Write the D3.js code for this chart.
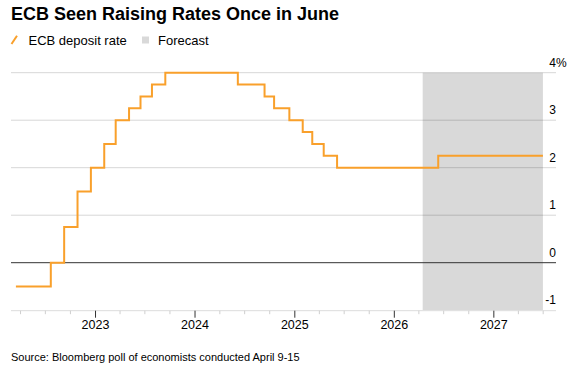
<!DOCTYPE html>
<html>
<head>
<meta charset="utf-8">
<script src="https://cdn.jsdelivr.net/npm/d3@7"></script>
<style>
  html, body { margin: 0; padding: 0; background: #fff; }
  svg { display: block; font-family: "Liberation Sans", Arial, Helvetica, sans-serif; }
</style>
</head>
<body>
<svg id="chart" width="576" height="366"></svg>
<script>
// ---- data ----
const title = "ECB Seen Raising Rates Once in June";
const seriesName = "ECB deposit rate";
const forecastName = "Forecast";
const source = "Source: Bloomberg poll of economists conducted April 9-15";

// step dates (decision dates) and deposit rate (%) taking effect from that date
const rateDates = [
  "2022-03-15", "2022-07-21", "2022-09-08", "2022-10-27", "2022-12-15",
  "2023-02-02", "2023-03-16", "2023-05-04", "2023-06-15", "2023-07-27",
  "2023-09-14", "2024-06-06", "2024-09-12", "2024-10-17", "2024-12-12",
  "2025-01-30", "2025-03-06", "2025-04-17", "2025-06-05", "2026-06-11",
  "2027-06-30"
];
const rateValues = [
  -0.5, 0, 0.75, 1.5, 2.0,
  2.5, 3.0, 3.25, 3.5, 3.75,
  4.0, 3.75, 3.5, 3.25, 3.0,
  2.75, 2.5, 2.25, 2.0, 2.25,
  2.25
];
const forecastStart = "2026-04-15";
const forecastEnd = "2027-06-30";

const yTicks = [-1, 0, 1, 2, 3, 4];
const xYears = ["2023", "2024", "2025", "2026", "2027"];
const xDomain = ["2022-02-25", "2027-08-17"];
const yDomain = [-1, 4];

// ---- drawing ----
(function () {
const parse = d3.utcParse("%Y-%m-%d");
const data = rateDates.map((d, i) => ({ date: parse(d), value: rateValues[i] }));

const svg = d3.select("#chart");
const pl = 11, pr = 556, pt = 72.7, pb = 310.2;

const x = d3.scaleUtc().domain(xDomain.map(parse)).range([pl, pr]);
const y = d3.scaleLinear().domain(yDomain).range([pb, pt]);

const orange = "#f9a02b";

// title
svg.append("text")
  .attr("x", 11).attr("y", 20)
  .attr("font-size", 18).attr("font-weight", "bold").attr("fill", "#000")
  .attr("textLength", 328).attr("lengthAdjust", "spacingAndGlyphs")
  .text(title);

// legend
svg.append("line")
  .attr("x1", 11.5).attr("y1", 44).attr("x2", 17).attr("y2", 35.8)
  .attr("stroke", orange).attr("stroke-width", 2);
svg.append("text")
  .attr("x", 28.5).attr("y", 44.5)
  .attr("font-size", 13).attr("fill", "#000")
  .text(seriesName);
svg.append("rect")
  .attr("x", 142).attr("y", 36.5).attr("width", 7).attr("height", 7)
  .attr("fill", "#d9d9d9");
svg.append("text")
  .attr("x", 158).attr("y", 44.5)
  .attr("font-size", 13).attr("fill", "#000")
  .text(forecastName);

// forecast shading
svg.append("rect")
  .attr("x", x(parse(forecastStart)))
  .attr("y", y(4))
  .attr("width", x(parse(forecastEnd)) - x(parse(forecastStart)))
  .attr("height", y(-1) - y(4))
  .attr("fill", "#d9d9d9");

// grid lines
const grid = svg.append("g");
grid.selectAll("line")
  .data(yTicks.filter(t => t > -1))
  .join("line")
  .attr("x1", pl).attr("x2", pr)
  .attr("y1", d => y(d)).attr("y2", d => y(d))
  .attr("stroke", d => d === 0 ? "#333" : "rgba(0,0,0,0.16)")
  .attr("stroke-width", 1);

// y labels
const yl = svg.append("g").attr("font-size", 12).attr("fill", "#000");
yl.selectAll("text.num")
  .data(yTicks)
  .join("text")
  .attr("class", "num")
  .attr("x", pr)
  .attr("y", d => y(d) - 6)
  .attr("text-anchor", "end")
  .text(d => d);
yl.append("text")
  .attr("x", pr).attr("y", y(4) - 6)
  .text("%");

// x axis
const axisY = 310.7;
svg.append("line")
  .attr("x1", pl).attr("x2", pr)
  .attr("y1", axisY).attr("y2", axisY)
  .attr("stroke", "#dcdcdc");
const quarters = d3.utcMonth.every(3).range(x.domain()[0], x.domain()[1]);
svg.append("g").selectAll("line")
  .data(quarters.filter(d => d.getUTCMonth() !== 0))
  .join("line")
  .attr("x1", d => x(d)).attr("x2", d => x(d))
  .attr("y1", axisY).attr("y2", axisY + 3.5)
  .attr("stroke", "#cfcfcf");
const years = xYears.map(s => parse(s + "-01-01"));
svg.append("g").selectAll("line")
  .data(years)
  .join("line")
  .attr("x1", d => x(d)).attr("x2", d => x(d))
  .attr("y1", axisY).attr("y2", axisY + 7)
  .attr("stroke", "#333");
svg.append("g").attr("font-size", 12.5).attr("fill", "#000")
  .selectAll("text")
  .data(years)
  .join("text")
  .attr("x", d => x(d))
  .attr("y", 329)
  .attr("text-anchor", "middle")
  .text(d => d3.utcFormat("%Y")(d));

// data line
const line = d3.line()
  .x(d => x(d.date))
  .y(d => y(d.value))
  .curve(d3.curveStepAfter);
svg.append("path")
  .datum(data)
  .attr("d", line)
  .attr("fill", "none")
  .attr("stroke", orange)
  .attr("stroke-width", 2);

// source
svg.append("text")
  .attr("x", 11).attr("y", 360.5)
  .attr("font-size", 11).attr("fill", "#000")
  .text(source);
})();
</script>
</body>
</html>
